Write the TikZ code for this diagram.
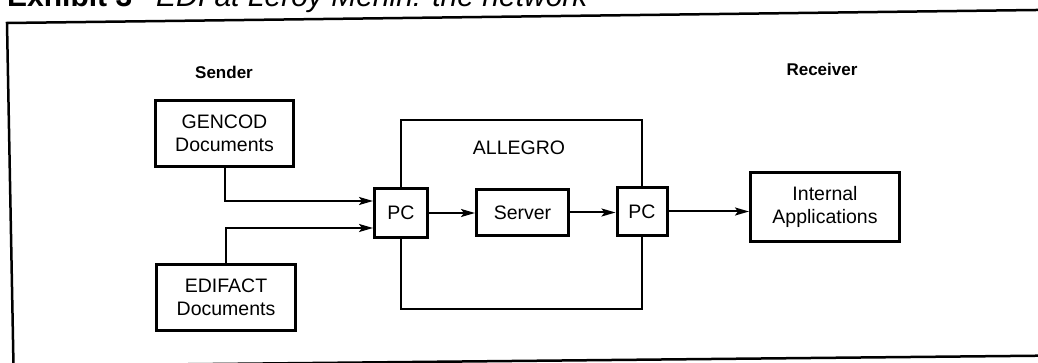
\documentclass[tikz,border=0pt]{standalone}
\usepackage{fontspec}
\setmainfont{Liberation Sans}
\usetikzlibrary{arrows.meta}
\newcommand\bodyfont{\fontsize{19.5}{23}\selectfont}
\newcommand\headfont{\fontsize{17}{20}\selectfont\bfseries}
\newcommand\titlefont{\fontsize{30}{34}\selectfont}
\begin{document}
\begin{tikzpicture}[x=1pt,y=-1pt,
  box/.style={draw, line width=3pt, inner sep=0pt, align=center, font=\bodyfont},
  headlbl/.style={inner sep=0pt, font=\headfont},
  conn/.style={line width=2pt},
  arr/.style={conn, -{Stealth[length=14pt,width=8pt,inset=3pt]}},
  frameline/.style={line width=2.5pt}]
\useasboundingbox (0,0) rectangle (1038,363);
\clip (0,0) rectangle (1038,363);
% outer frame (slightly skewed, cut by the picture edges)
\draw[frameline] (1060,9.7) -- (7,23) -- (13.5,366) -- (1060,355.5);
% title, cut at the top
\node[anchor=base west, inner sep=0pt, font=\titlefont] (title) at (7,7)
  {\textbf{Exhibit 3}\hspace{24pt}\textit{EDI at Leroy Merlin: the network}};
% labels
\node[headlbl] (sender) at (224,72) {Sender};
\node[headlbl] (receiver) at (822,69) {Receiver};
\node[inner sep=0pt, font=\bodyfont] (allegro) at (519,148) {ALLEGRO};
% boxes
\node[box, minimum width=138pt, minimum height=66pt] (gencod) at (224.5,133.5) {GENCOD\\Documents};
\node[box, minimum width=139pt, minimum height=66pt] (edifact) at (226,297.5) {EDIFACT\\Documents};
\node[box, minimum width=53pt, minimum height=49pt] (pc1) at (401,213) {PC};
\node[box, minimum width=92pt, minimum height=46pt] (server) at (522.5,212.5) {Server};
\node[box, minimum width=50pt, minimum height=48pt] (pc2) at (642,211.5) {PC};
\node[box, minimum width=149pt, minimum height=69pt] (ia) at (825,207) {Internal\\Applications};
% ALLEGRO enclosure
\coordinate (atl) at (401,120);
\coordinate (atr) at (642,120);
\coordinate (abl) at (401,309);
\coordinate (abr) at (642,309);
\draw[conn] (pc1.north) -- (atl) -- (atr) -- (pc2.north);
\draw[conn] (pc1.south) -- (abl) -- (abr) -- (pc2.south);
% connectors
\draw[arr] (gencod.south) |- ([yshift=12pt]pc1.west);
\draw[arr] (edifact.north) |- ([yshift=-15pt]pc1.west);
\draw[arr] (pc1.east) -- (pc1.east -| server.west);
\draw[arr] (server.east) -- (server.east -| pc2.west);
\draw[arr] (pc2.east) -- (pc2.east -| ia.west);
\end{tikzpicture}
\end{document}
